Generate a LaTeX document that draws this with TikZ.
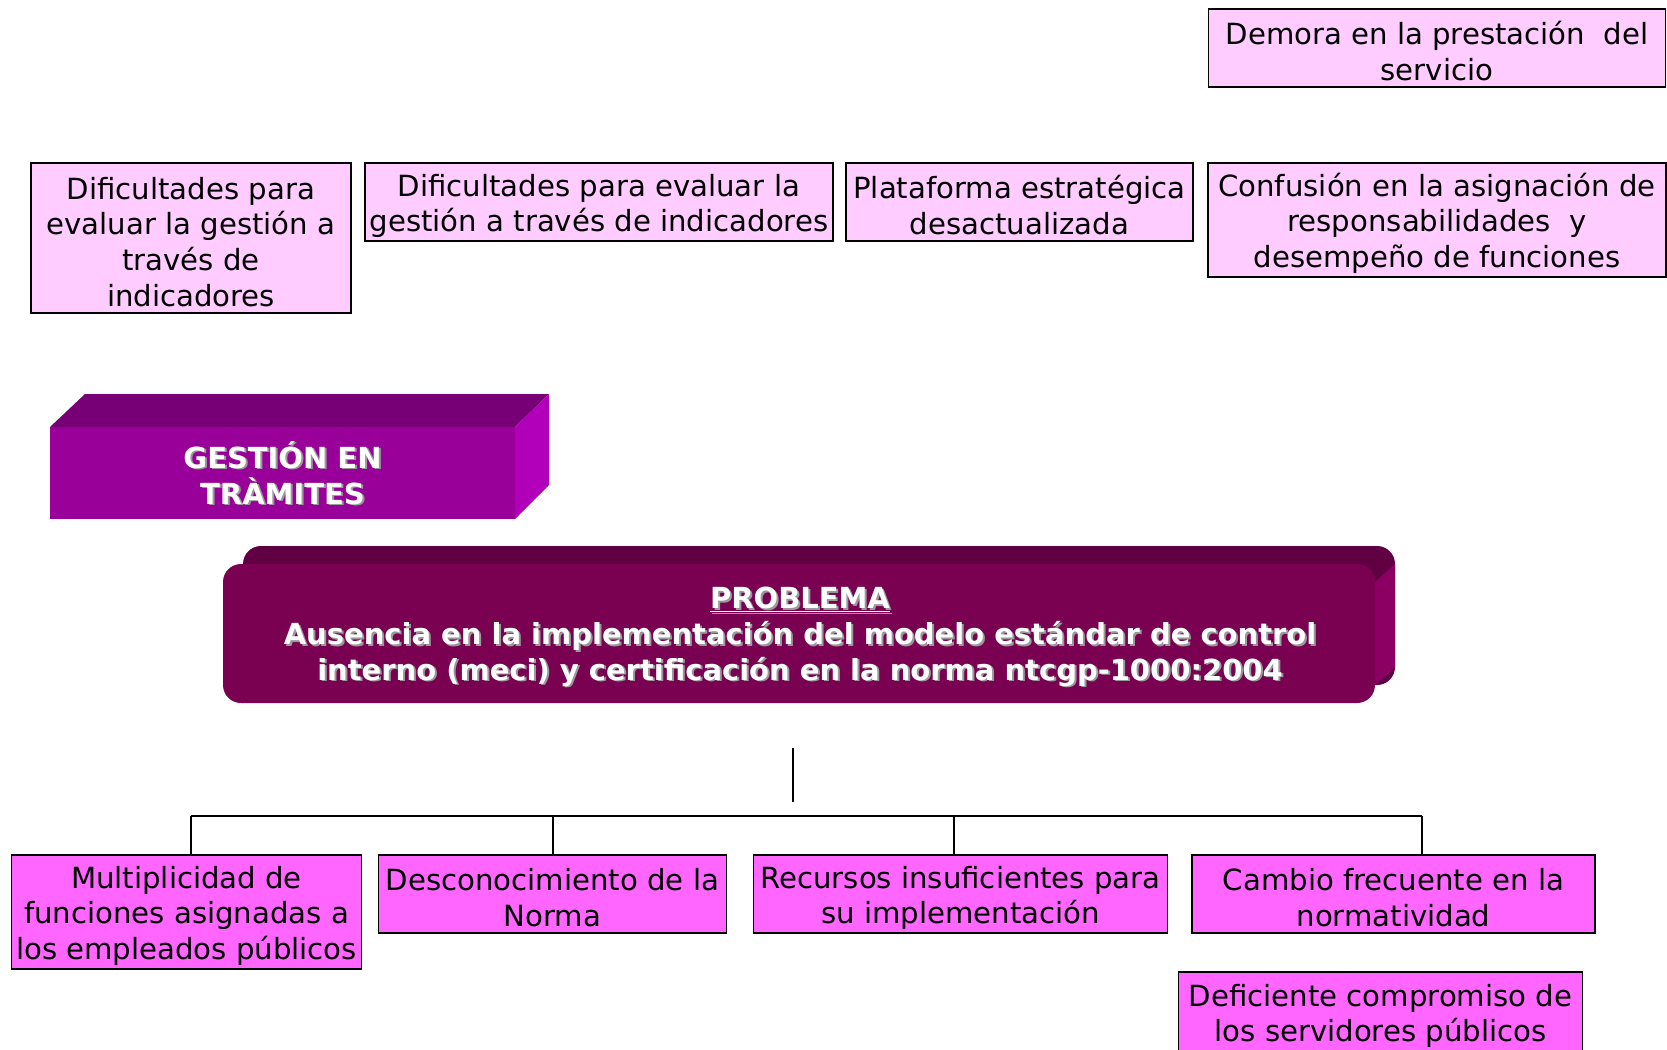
\documentclass[tikz,border=0pt]{standalone}
\usepackage{fontspec}
\setmainfont{DejaVu Sans}
\usetikzlibrary{positioning}
\definecolor{rosaclaro}{RGB}{255,204,255}
\definecolor{rosafuerte}{RGB}{255,102,255}
\definecolor{gestfront}{RGB}{153,0,153}
\definecolor{gesttop}{RGB}{119,0,119}
\definecolor{gestside}{RGB}{178,0,186}
\definecolor{probfront}{RGB}{122,0,82}
\definecolor{probtop}{RGB}{96,0,66}
\definecolor{probside}{RGB}{140,0,100}
\newlength{\px}\setlength{\px}{0.02cm}
\newcommand{\bajar}{\rule{0pt}{17pt}}

\begin{document}
\begin{tikzpicture}[x=0.02cm, y=-0.02cm,
    efecto/.style={draw=black, line width=1.1pt, fill=rosaclaro, align=center,
                   inner sep=1pt, font=\fontsize{16.6}{20.3}\selectfont},
    causa/.style={efecto, fill=rosafuerte},
    titulo/.style={align=center, text=white, inner sep=0pt,
                   font=\fontsize{16.5}{20.3}\selectfont\bfseries},
    sombra/.style={titulo, text=black!40},
    rama/.style={line width=1.1pt}]
  \useasboundingbox (0,0) rectangle (1667,1049);

  % Efectos (parte superior)
  \node[efecto, minimum width=457\px, minimum height=78\px] (demora) at (1437,48)
    {\bajar Demora en la prestación \ del\\ servicio};
  \node[efecto, minimum width=320\px, minimum height=150\px] (indic1) at (191,238)
    {\bajar Dificultades para\\ evaluar la gestión a\\ través de\\ indicadores};
  \node[efecto, minimum width=468\px, minimum height=78\px] (indic2) at (599,202)
    {\bajar Dificultades para evaluar la\\ gestión a través de indicadores};
  \node[efecto, minimum width=347\px, minimum height=78\px] (plataf) at (1019.5,202)
    {\bajar Plataforma estratégica\\ desactualizada};
  \node[efecto, minimum width=458\px, minimum height=114\px] (confus) at (1437,220)
    {\bajar Confusión en la asignación de\\ responsabilidades \ y\\ desempeño de funciones};

  % Bloque GESTION EN TRAMITES
  \fill[gesttop] (50,427) -- (85,394) -- (549,394) -- (515,427) -- cycle;
  \fill[gestside] (515,427) -- (549,394) -- (549,485) -- (515,519) -- cycle;
  \fill[gestfront] (50,427) rectangle (515,519);
  \node[sombra] at (284.5,474.5) {GESTIÓN EN\\ TRÀMITES};
  \node[titulo] (gestion) at (282.5,473) {GESTIÓN EN\\ TRÀMITES};

  % Bloque PROBLEMA
  \fill[probtop, rounded corners=18\px] (243,546) rectangle (1395,685);
  \fill[probside] (1375,582) -- (1395,564) -- (1395,667) -- (1375,685) -- cycle;
  \fill[probfront, rounded corners=18\px] (223,564) rectangle (1375,703);
  \node[sombra] at (802,638.5) {\underline{PROBLEMA}\\
    Ausencia en la implementación del modelo estándar de control\\
    interno (meci) y certificación en la norma ntcgp-1000:2004};
  \node[titulo] (problema) at (800,637) {\underline{PROBLEMA}\\
    Ausencia en la implementación del modelo estándar de control\\
    interno (meci) y certificación en la norma ntcgp-1000:2004};

  % Causas (parte inferior)
  \node[causa, minimum width=350\px, minimum height=114\px] (multip) at (186.5,912)
    {\bajar Multiplicidad de\\ funciones asignadas a\\ los empleados públicos};
  \node[causa, minimum width=348\px, minimum height=78\px] (descon) at (552.5,894)
    {\bajar Desconocimiento de la\\ Norma};
  \node[causa, minimum width=414\px, minimum height=78\px] (recurs) at (960.5,894)
    {\bajar Recursos insuficientes para\\ su implementación};
  \node[causa, minimum width=403\px, minimum height=78\px] (cambio) at (1393.5,894)
    {\bajar Cambio frecuente en la\\ normatividad};
  \node[causa, minimum width=404\px, minimum height=80\px] (defic) at (1380.5,1012)
    {\bajar Deficiente compromiso de\\ los servidores públicos};

  % Conectores
  \coordinate (tallo1) at (793,748);
  \coordinate (tallo2) at (793,802);
  \coordinate (b1) at (191,816);
  \coordinate (b2) at (553,816);
  \coordinate (b3) at (954,816);
  \coordinate (b4) at (1422,816);
  \draw[rama] (tallo1) -- (tallo2);
  \draw[rama] (b1) -- (b4);
  \draw[rama] (b1) -- (b1 |- multip.north);
  \draw[rama] (b2) -- (b2 |- descon.north);
  \draw[rama] (b3) -- (b3 |- recurs.north);
  \draw[rama] (b4) -- (b4 |- cambio.north);
\end{tikzpicture}
\end{document}
